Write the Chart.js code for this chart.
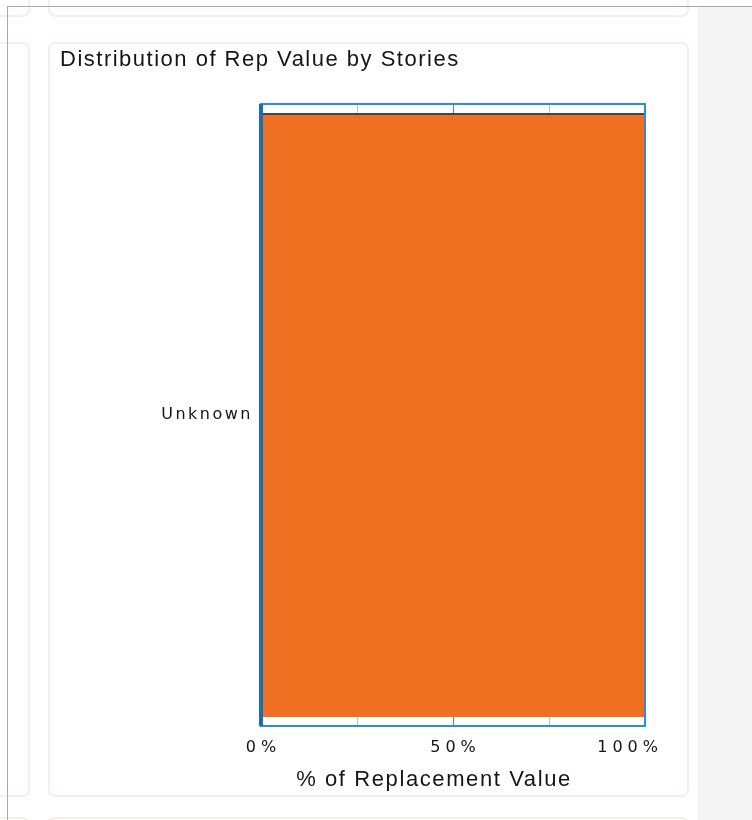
<!DOCTYPE html>
<html>
<head>
<meta charset="utf-8">
<script src="https://cdn.jsdelivr.net/npm/chart.js@4.4.1/dist/chart.umd.min.js"></script>
<style>
  html, body { margin: 0; padding: 0; background: #fff; }
  body { width: 752px; height: 820px; position: relative; overflow: hidden; font-family: "Liberation Sans", Arial, sans-serif; }
  .line-top { position: absolute; left: 7px; top: 6px; right: 0; height: 1px; background: #a9a9a9; z-index: 5; }
  .line-left { position: absolute; left: 7px; top: 6px; bottom: 0; width: 1px; background: #a9a9a9; z-index: 5; }
  .side { position: absolute; left: 698px; top: 7px; right: 0; bottom: 0; background: #f4f4f4; }
  .card { position: absolute; border: 2px solid #f4eeee; border-radius: 7px; background: #fff; box-sizing: border-box; }
  #title { position: absolute; left: 60px; top: 48px; font-size: 22px; line-height: 22px; letter-spacing: 1.5px; color: #151515; white-space: nowrap; z-index: 3; }
  canvas { position: absolute; left: 0; top: 0; z-index: 2; }
</style>
</head>
<body>
<div class="side"></div>
<div class="card" style="left:-20px; top:-30px; width:50px; height:47px;"></div>
<div class="card" style="left:-20px; top:42px; width:50px; height:755px;"></div>
<div class="card" style="left:-20px; top:817px; width:50px; height:50px;"></div>
<div class="card" style="left:48px; top:-30px; width:641px; height:47px;"></div>
<div class="card" style="left:48px; top:42px; width:641px; height:755px;"></div>
<div class="card" style="left:48px; top:817px; width:641px; height:50px;"></div>
<div class="line-top"></div>
<div class="line-left"></div>
<div id="title">Distribution of Rep Value by Stories</div>
<canvas id="chart" width="752" height="820"></canvas>

<script>
// data
const categories = ["Unknown"];
const repValueShare = [100];
const tickValues = [0, 50, 100];
const tickLabels = ["0%", "50%", "100%"];
const axisTitle = "% of Replacement Value";

// wide letter spacing like the original renderer
const spacingPlugin = {
  id: "spacing",
  beforeLayout(chart) { chart.ctx.letterSpacing = "2.5px"; },
  beforeDraw(chart) { chart.ctx.letterSpacing = "2.5px"; }
};

// blue frame, x tick labels and axis title
const framePlugin = {
  id: "frame",
  afterDraw(chart) {
    const { ctx, chartArea: a, scales: { x } } = chart;
    ctx.save();
    ctx.strokeStyle = "#2b8fd6";
    ctx.lineWidth = 2;
    ctx.strokeRect(a.left, a.top, a.right - a.left, a.bottom - a.top);
    ctx.fillStyle = "#1c6fae";
    ctx.fillRect(a.left - 2, a.top, 4, a.bottom - a.top);

    ctx.fillStyle = "#151515";
    ctx.font = '16px "DejaVu Sans"';
    ctx.letterSpacing = "5px";
    ctx.textBaseline = "alphabetic";
    tickValues.forEach((v, i) => {
      const px = x.getPixelForValue(v);
      if (i === tickValues.length - 1) {
        ctx.textAlign = "right";
        ctx.fillText(tickLabels[i], px + 18, a.bottom + 26);
      } else {
        ctx.textAlign = "center";
        ctx.fillText(tickLabels[i], px + 2.5, a.bottom + 26);
      }
    });

    ctx.font = '22px "Liberation Sans"';
    ctx.letterSpacing = "1.6px";
    ctx.textAlign = "center";
    ctx.fillText(axisTitle, (a.left + a.right) / 2 - 19, a.bottom + 60);
    ctx.restore();
  }
};

new Chart(document.getElementById("chart"), {
  type: "bar",
  data: {
    labels: categories,
    datasets: [{
      data: repValueShare,
      backgroundColor: "#f07022",
      borderColor: "#34495a",
      borderWidth: { top: 2, left: 0, right: 0, bottom: 0 },
      borderSkipped: false,
      barPercentage: 1,
      categoryPercentage: 0.971
    }]
  },
  options: {
    indexAxis: "y",
    responsive: false,
    animation: false,
    layout: { padding: { left: 0, right: 107, top: 104, bottom: 0 } },
    plugins: {
      legend: { display: false },
      tooltip: { enabled: false }
    },
    scales: {
      x: {
        min: 0,
        max: 100,
        ticks: { stepSize: 25, display: false },
        grid: {
          drawTicks: false,
          color: c => c.tick.value === 50 ? "#2b8fd6" : (c.tick.value === 0 || c.tick.value === 100 ? "rgba(0,0,0,0)" : "#bdbdbd")
        },
        border: { display: false },
        afterFit: s => { s.height = 94; }
      },
      y: {
        ticks: { font: { family: "DejaVu Sans", size: 16 }, color: "#151515", padding: 8 },
        grid: { display: false, drawTicks: false },
        border: { display: false },
        afterFit: s => { s.width = 261; }
      }
    }
  },
  plugins: [spacingPlugin, framePlugin]
});
</script>
</body>
</html>
